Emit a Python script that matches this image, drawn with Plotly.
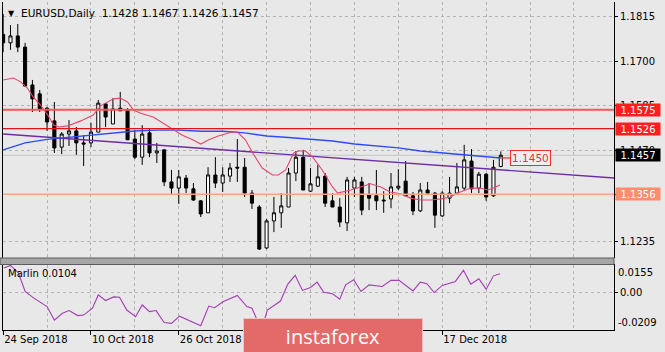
import plotly.graph_objects as go

# ---------------- data ----------------
symbol = "EURUSD,Daily"
bar_index = list(range(69))
opens = [1.1770, 1.1748, 1.1766, 1.1737, 1.1639, 1.1616, 1.1579, 1.1546, 1.1478, 1.1512,
         1.1520, 1.1489, 1.1489, 1.1517, 1.1590, 1.1538, 1.1579, 1.1574, 1.1499, 1.1452,
         1.1515, 1.1463, 1.1471, 1.1388, 1.1372, 1.1398, 1.1370, 1.1339, 1.1308, 1.1406,
         1.1385, 1.1403, 1.1426, 1.1426, 1.1359, 1.1323, 1.1217, 1.1287, 1.1308, 1.1323,
         1.1411, 1.1452, 1.1364, 1.1377, 1.1403, 1.1339, 1.1323, 1.1282, 1.1372, 1.1388,
         1.1354, 1.1352, 1.1341, 1.1344, 1.1372, 1.1390, 1.1352, 1.1313, 1.1367, 1.1359,
         1.1300, 1.1346, 1.1359, 1.1372, 1.1442, 1.1372, 1.1408, 1.1352, 1.1428]
highs = [1.1823, 1.1794, 1.1797, 1.1748, 1.1652, 1.1626, 1.1582, 1.1595, 1.1517, 1.1548,
         1.1530, 1.1509, 1.1541, 1.1600, 1.1592, 1.1605, 1.1621, 1.1579, 1.1522, 1.1535,
         1.1527, 1.1489, 1.1471, 1.1419, 1.1419, 1.1406, 1.1385, 1.1341, 1.1426, 1.1452,
         1.1426, 1.1437, 1.1499, 1.1450, 1.1367, 1.1328, 1.1292, 1.1349, 1.1359, 1.1424,
         1.1468, 1.1471, 1.1424, 1.1432, 1.1411, 1.1359, 1.1346, 1.1401, 1.1401, 1.1401,
         1.1385, 1.1419, 1.1364, 1.1411, 1.1421, 1.1442, 1.1362, 1.1385, 1.1388, 1.1362,
         1.1364, 1.1401, 1.1437, 1.1484, 1.1473, 1.1414, 1.1411, 1.1445, 1.1467]
lows = [1.1724, 1.1730, 1.1724, 1.1636, 1.1569, 1.1569, 1.1520, 1.1463, 1.1460, 1.1481,
        1.1458, 1.1429, 1.1478, 1.1517, 1.1530, 1.1538, 1.1572, 1.1497, 1.1447, 1.1432,
        1.1452, 1.1437, 1.1377, 1.1354, 1.1331, 1.1359, 1.1339, 1.1297, 1.1308, 1.1372,
        1.1362, 1.1388, 1.1388, 1.1349, 1.1318, 1.1212, 1.1214, 1.1258, 1.1269, 1.1323,
        1.1390, 1.1367, 1.1362, 1.1375, 1.1323, 1.1323, 1.1271, 1.1261, 1.1349, 1.1302,
        1.1315, 1.1315, 1.1308, 1.1320, 1.1367, 1.1352, 1.1302, 1.1310, 1.1354, 1.1269,
        1.1297, 1.1333, 1.1359, 1.1367, 1.1359, 1.1359, 1.1339, 1.1349, 1.1426]
closes = [1.1748, 1.1766, 1.1737, 1.1636, 1.1603, 1.1577, 1.1543, 1.1476, 1.1512, 1.1520,
          1.1489, 1.1486, 1.1517, 1.1592, 1.1556, 1.1577, 1.1572, 1.1497, 1.1452, 1.1512,
          1.1463, 1.1468, 1.1388, 1.1372, 1.1401, 1.1372, 1.1341, 1.1305, 1.1406, 1.1385,
          1.1406, 1.1424, 1.1424, 1.1359, 1.1333, 1.1214, 1.1287, 1.1308, 1.1326, 1.1411,
          1.1452, 1.1367, 1.1383, 1.1401, 1.1333, 1.1323, 1.1284, 1.1393, 1.1393, 1.1315,
          1.1346, 1.1339, 1.1339, 1.1375, 1.1377, 1.1352, 1.1313, 1.1367, 1.1359, 1.1302,
          1.1359, 1.1359, 1.1375, 1.1445, 1.1370, 1.1408, 1.1349, 1.1426, 1.1457]

x_tick_bars = [0, 12, 24, 36, 48, 60]
x_tick_labels = ["24 Sep 2018", "10 Oct 2018", "26 Oct 2018", "13 Nov 2018", "29 Nov 2018", "17 Dec 2018"]
x_minor_bars = [6, 18, 30, 42, 54, 66, 72, 78]

price_ticks = [1.1235, 1.1355, 1.1470, 1.1585, 1.1700, 1.1815]
price_tick_labels = ["1.1235", "1.1355", "1.1470", "1.1585", "1.1700", "1.1815"]

# slow moving average (blue)
ma_slow_x = [0, 3, 6, 9, 12, 15, 18, 21, 24, 27, 30, 33, 36, 39, 42, 45, 48, 51, 54, 57, 60, 63, 66, 68]
ma_slow_y = [1.1471, 1.1489, 1.1498, 1.1504, 1.1509, 1.1515, 1.1520, 1.1522, 1.1522, 1.1519,
             1.1519, 1.1515, 1.1507, 1.1503, 1.1499, 1.1494, 1.1486, 1.1481, 1.1476, 1.1468,
             1.1463, 1.1458, 1.1452, 1.1450]

# fast moving average (red)
ma_fast_x = [0, 1.4, 2.4, 3.3, 4.1, 5.1, 6.1, 6.9, 7.6, 8.8, 10.6, 12.3, 13.3, 14.3, 15.1, 16, 17,
             17.8, 18.8, 20.5, 22.9, 24.5, 25.9, 27, 28.1, 29.4, 31.3, 32, 33.1, 34.1, 35.4, 36.8,
             37.6, 38.6, 39.7, 40.4, 41.3, 42.3, 43.6, 45, 45.7, 47.5, 49.2, 50.2, 51.6, 52.9, 54.3,
             55.7, 57, 58.4, 59.8, 61.1, 62.1, 62.9, 63.9, 65.2, 66.2, 67, 67.9]
ma_fast_y = [1.1652, 1.1657, 1.1647, 1.1631, 1.1608, 1.1587, 1.1561, 1.1535, 1.1530, 1.1533,
             1.1546, 1.1561, 1.1585, 1.1595, 1.1603, 1.1605, 1.1595, 1.1574, 1.1566, 1.1556,
             1.1528, 1.1509, 1.1497, 1.1486, 1.1497, 1.1507, 1.1517, 1.1517, 1.1497, 1.1463,
             1.1424, 1.1406, 1.1406, 1.1419, 1.1463, 1.1468, 1.1468, 1.1452, 1.1419, 1.1375,
             1.1359, 1.1367, 1.1377, 1.1383, 1.1375, 1.1362, 1.1357, 1.1346, 1.1341, 1.1341,
             1.1344, 1.1349, 1.1359, 1.1364, 1.1372, 1.1372, 1.1367, 1.1372, 1.1380]

# trend line (purple)
trend_x = [0, 83.5]
trend_y = [1.1512, 1.1398]

# horizontal levels
resistance_levels = [1.1575, 1.1526]
support_level = 1.1356
marker_price = 1.1450
marker_bar = [68, 69.3]

# Marlin oscillator
marlin_x = [0.1, 1.0, 2.1, 3.0, 4.2, 6.0, 7.0, 8.1, 9.0, 10.2, 11.0, 12.2, 13.0, 14.0, 15.1, 15.9,
            16.9, 18.1, 19.0, 20.0, 20.9, 22.0, 23.0, 24.1, 27.0, 28.1, 28.9, 30.1, 32.0, 33.3,
            34.0, 34.7, 35.3, 36.1, 37.9, 38.9, 39.9, 40.9, 42.0, 42.9, 43.8, 45.0, 46.0, 46.8,
            47.9, 48.9, 50.0, 51.8, 53.0, 54.1, 56.0, 57.0, 57.9, 58.9, 60.0, 61.8, 62.9, 63.9,
            65.0, 66.0, 67.0, 67.9]
marlin_y = [0.0136, 0.0150, 0.0108, 0.0005, -0.0032, -0.0079, -0.0154, -0.0116, -0.0101, -0.0129,
            -0.0126, -0.0088, -0.0014, -0.0045, -0.0025, -0.0027, -0.0098, -0.0135, -0.0070,
            -0.0107, -0.0101, -0.0167, -0.0172, -0.0132, -0.0185, -0.0076, -0.0085, -0.0051,
            -0.0017, -0.0079, -0.0088, -0.0154, -0.0209, -0.0098, -0.0048, 0.0046, 0.0095,
            0.0011, 0.0027, 0.0057, 0.0001, -0.0008, -0.0038, 0.0042, 0.0070, 0.0005, 0.0042,
            0.0033, 0.0067, 0.0067, 0.0008, 0.0057, 0.0048, -0.0001, 0.0039, 0.0061, 0.0123,
            0.0046, 0.0076, 0.0018, 0.0092, 0.0104]
marlin_range = [-0.0209, 0.0155]

# ---------------- layout helpers ----------------
W, H = 665, 352
ML, MR, MT, MB = 3, 51, 2, 22
PW, PH = W - ML - MR, H - MT - MB


def px_x(px):
    return (px - ML) / PW


def px_y(py):
    return (H - MB - py) / PH


BG = "#E8E8E8"
GRID = "#B4B4B4"
FONT = "DejaVu Sans"

fig = go.Figure()

fig.add_trace(go.Candlestick(
    x=bar_index, open=opens, high=highs, low=lows, close=closes,
    increasing=dict(fillcolor="white", line=dict(color="black", width=1)),
    decreasing=dict(fillcolor="black", line=dict(color="black", width=1)),
    whiskerwidth=0, xaxis="x", yaxis="y", hoverinfo="skip", showlegend=False,
))

fig.add_trace(go.Scatter(x=trend_x, y=trend_y, mode="lines",
                         line=dict(color="#6E2CA6", width=1.4), xaxis="x", yaxis="y"))
fig.add_trace(go.Scatter(x=ma_slow_x, y=ma_slow_y, mode="lines",
                         line=dict(color="#2E4BFA", width=1.4), xaxis="x", yaxis="y"))
fig.add_trace(go.Scatter(x=ma_fast_x, y=ma_fast_y, mode="lines",
                         line=dict(color="#E6466A", width=1.1), xaxis="x", yaxis="y"))
fig.add_trace(go.Scatter(x=marlin_x, y=marlin_y, mode="lines",
                         line=dict(color="#A43CB4", width=1.1), xaxis="x", yaxis="y2"))

shapes = []
res_colors = ["#F25A5A", "#E01414"]
res_widths = [2, 1.2]
for lvl, c, w in zip(resistance_levels, res_colors, res_widths):
    shapes.append(dict(type="line", xref="paper", x0=0, x1=1, yref="y", y0=lvl, y1=lvl,
                       line=dict(color=c, width=w)))
shapes.append(dict(type="line", xref="paper", x0=0, x1=1, yref="y", y0=support_level, y1=support_level,
                   line=dict(color="#F5A584", width=1.6)))
shapes.append(dict(type="line", xref="paper", x0=0, x1=1, yref="y", y0=closes[-1], y1=closes[-1],
                   line=dict(color="#C6C6C6", width=1.2), layer="below"))
shapes.append(dict(type="line", xref="x", x0=marker_bar[0], x1=marker_bar[1], yref="y",
                   y0=marker_price, y1=marker_price, line=dict(color="#F03030", width=1.2)))
# separator between main window and indicator window
shapes.append(dict(type="rect", xref="paper", x0=px_x(0), x1=1, yref="paper",
                   y0=px_y(264.5), y1=px_y(258), fillcolor="#A6A6A6",
                   line=dict(color="#5A5A5A", width=1)))

annotations = []
# title
annotations.append(dict(xref="paper", yref="paper", x=px_x(6), y=px_y(13), xanchor="left", yanchor="middle",
                        text="▼", showarrow=False, font=dict(family=FONT, size=8, color="black")))
annotations.append(dict(xref="paper", yref="paper", x=px_x(19), y=px_y(13), xanchor="left", yanchor="middle",
                        text=f"{symbol}  {opens[-1]:.4f} {highs[-1]:.4f} {lows[-1]:.4f} {closes[-1]:.4f}",
                        showarrow=False, font=dict(family=FONT, size=10.5, color="black")))
# price boxes on the right axis
box_specs = [(resistance_levels[0], "#FF1E1E"), (resistance_levels[1], "#FF1E1E"),
             (support_level, "#FF8C6A"), (closes[-1], "#000000")]
for val, col in box_specs:
    annotations.append(dict(xref="paper", yref="y", x=1, y=val, xanchor="left", yanchor="middle",
                            xshift=1, text=f"{val:.4f}", showarrow=False, bgcolor=col,
                            width=44, height=12, borderpad=0,
                            font=dict(family=FONT, size=10, color="white")))
# price label near last bar
annotations.append(dict(xref="x", yref="y", x=marker_bar[1], y=marker_price, xanchor="left",
                        yanchor="middle", text=f"{marker_price:.4f}", showarrow=False,
                        bgcolor="#EFEFEF", bordercolor="#F03030", borderwidth=1, borderpad=1,
                        font=dict(family=FONT, size=10.5, color="#F03030")))
# indicator labels
annotations.append(dict(xref="paper", yref="y2", x=px_x(6), y=marlin_range[1], xanchor="left",
                        yanchor="top", yshift=-1, text=f"Marlin {marlin_y[-1]:.4f}", showarrow=False,
                        font=dict(family=FONT, size=10, color="black")))
annotations.append(dict(xref="paper", yref="y2", x=1, y=marlin_range[1], xanchor="left",
                        yanchor="top", xshift=2, text=f"{marlin_range[1]:.4f}", showarrow=False,
                        font=dict(family=FONT, size=10, color="black")))
annotations.append(dict(xref="paper", yref="y2", x=1, y=marlin_range[0], xanchor="left",
                        yanchor="bottom", xshift=2, text=f"{marlin_range[0]:.4f}", showarrow=False,
                        font=dict(family=FONT, size=10, color="black")))
# watermark banner
annotations.append(dict(xref="paper", yref="paper", x=px_x(243), y=px_y(318), xanchor="left",
                        yanchor="top", text="instaforex", showarrow=False, bgcolor="#E46A6A",
                        bordercolor="#F4C0C0", borderwidth=1, width=176, height=32,
                        font=dict(family="Open Sans", size=20, color="white")))

fig.update_layout(
    width=W, height=H,
    margin=dict(l=ML, r=MR, t=MT, b=MB),
    paper_bgcolor=BG, plot_bgcolor=BG,
    showlegend=False, hovermode=False,
    font=dict(family=FONT, size=10, color="black"),
    boxgap=0.4,
    xaxis=dict(range=[-0.02, 83.47], anchor="y2", tickmode="array", tickvals=x_tick_bars,
               ticktext=x_tick_labels, ticklabelposition="outside right", ticks="outside",
               ticklen=4, tickcolor="black", showgrid=True, gridcolor=GRID, griddash="3px,3px",
               gridwidth=1,
               minor=dict(tickmode="array", tickvals=x_minor_bars, showgrid=True, gridcolor=GRID,
                          griddash="3px,3px", ticks=""),
               showline=True, linecolor="black", linewidth=1, mirror=True,
               rangeslider=dict(visible=False), zeroline=False, fixedrange=True),
    yaxis=dict(domain=[px_y(258), 1], range=[1.11910, 1.18538], side="right", tickmode="array",
               tickvals=price_ticks, ticktext=price_tick_labels, ticks="outside", ticklen=3,
               tickcolor="black", showgrid=True, gridcolor=GRID, griddash="3px,3px",
               showline=True, linecolor="black", linewidth=1, mirror=True, zeroline=False),
    yaxis2=dict(domain=[0, px_y(264.5)], range=marlin_range, side="right", tickmode="array",
                tickvals=[0], ticktext=["0.00"], ticks="outside", ticklen=3, tickcolor="black",
                showgrid=True, gridcolor=GRID, griddash="3px,3px",
                showline=True, linecolor="black", linewidth=1, mirror=True, zeroline=False),
    shapes=shapes,
    annotations=annotations,
)

fig.write_html("out.html")
